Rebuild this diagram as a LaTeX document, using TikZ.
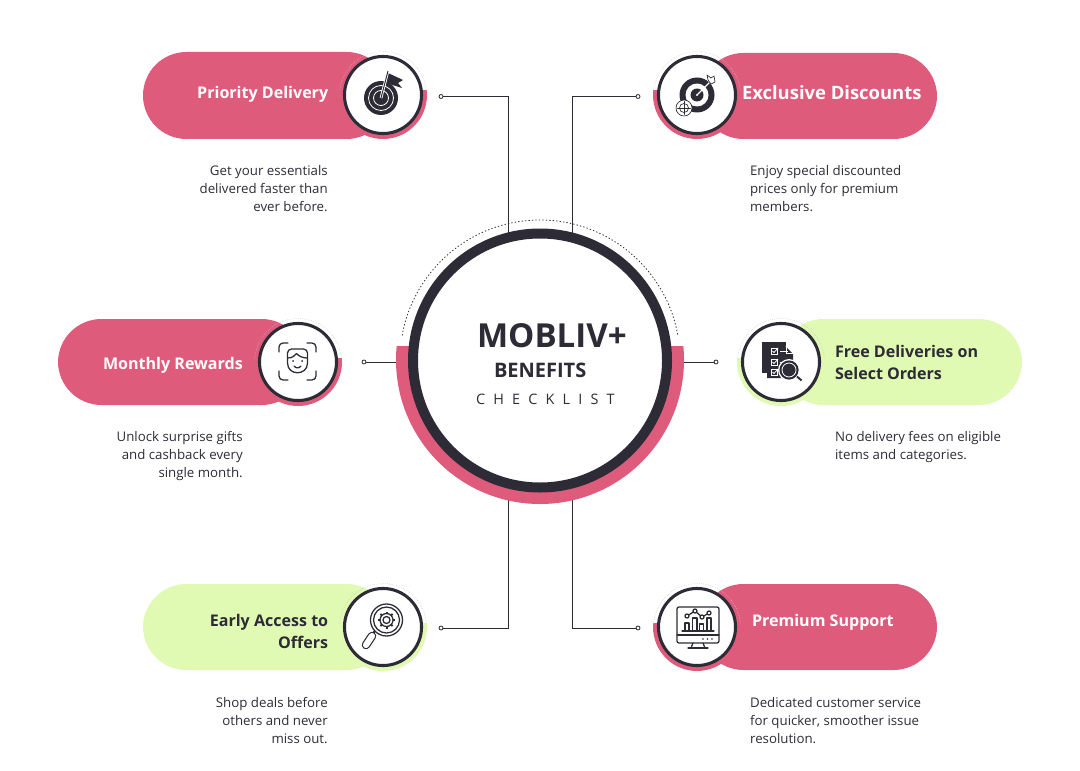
\documentclass[tikz,border=0pt]{standalone}
\usepackage{fontspec}
\setmainfont{Open Sans}
\definecolor{rosy}{HTML}{DF5B7C}
\definecolor{ink}{HTML}{2D2B36}
\definecolor{lime}{HTML}{E0F9B3}

% rim under a badge, faint dots over it
\newcommand{\badgerim}[3]{%
	\begin{scope}
		\clip (#1-50,#2-4) rectangle (#1+50,#2+50);
		\fill[#3] (#1,#2) circle (44);
	\end{scope}
	\begin{scope}
		\clip (#1-50,#2-50) rectangle (#1+50,#2-4);
		\draw[faint] (#1,#2) circle (43.5);
	\end{scope}
}

\begin{document}
\begin{tikzpicture}[x=0.75pt,y=-0.75pt,line width=0.75pt,draw=ink]
	\tikzstyle{badge}=[circle,draw=ink,fill=white,line width=2.3pt,minimum size=57.8pt,inner sep=0pt]
	\tikzstyle{faint}=[draw=gray!45,line width=0.4pt,densely dotted]
	\tikzstyle{tip}=[circle,draw=ink,fill=white,line width=0.6pt,minimum size=3pt,inner sep=0pt]
	\tikzstyle{wire}=[draw=ink,line width=0.75pt]
	\tikzstyle{title}=[inner sep=0pt,font=\fontsize{12.05}{16.5}\selectfont\bfseries]
	\tikzstyle{blurb}=[inner sep=0pt,text=ink,font=\fontsize{9.95}{13.5}\selectfont]
	\tikzstyle{iconline}=[draw=ink,line width=0.95pt,line cap=round,line join=round]

	\useasboundingbox (0,0) rectangle (1080,770);

	\def \rowa{95}
	\def \rowb{362}
	\def \rowc{627}

	% pills
	\fill[rosy,rounded corners=32.6pt] (143,52) rectangle (390,139);
	\fill[rosy,rounded corners=32.6pt] (700,53) rectangle (937,139);
	\fill[rosy,rounded corners=32.6pt] (58,319) rectangle (305,405);
	\fill[lime,rounded corners=32.6pt] (780,319) rectangle (1022,405);
	\fill[lime,rounded corners=32.6pt] (143,584) rectangle (390,670);
	\fill[rosy,rounded corners=32.6pt] (700,584) rectangle (937,670);

	% connectors
	\node[tip] (tip-pd) at (441,96.5) {};
	\node[tip] (tip-ed) at (638,96.5) {};
	\node[tip] (tip-mr) at (364,362) {};
	\node[tip] (tip-fd) at (716,362) {};
	\node[tip] (tip-ea) at (441,628) {};
	\node[tip] (tip-ps) at (638,628) {};
	\coordinate (hub-nw) at (508,236);
	\coordinate (hub-ne) at (572,236);
	\coordinate (hub-w) at (400,362);
	\coordinate (hub-e) at (680,362);
	\coordinate (hub-sw) at (508,498);
	\coordinate (hub-se) at (572,498);
	\draw[wire] (tip-pd) -| (hub-nw);
	\draw[wire] (tip-ed) -| (hub-ne);
	\draw[wire] (tip-mr) -- (hub-w);
	\draw[wire] (tip-fd) -- (hub-e);
	\draw[wire] (tip-ea) -| (hub-sw);
	\draw[wire] (tip-ps) -| (hub-se);

	% hub
	\begin{scope}
		\clip (390,346) rectangle (690,510);
		\fill[rosy] (540,360) circle (144);
	\end{scope}
	\begin{scope}
		\clip (390,210) rectangle (690,335);
		\draw[draw=ink,line width=0.6pt,dash pattern=on 1pt off 1.6pt] (540,360) circle (140);
	\end{scope}
	\node[circle,draw=ink,fill=white,line width=7.5pt,minimum size=190.5pt,inner sep=0pt] (hub) at (540,360.5) {};

	\node[inner sep=0pt,anchor=base west,text=ink,font=\fontsize{24.8}{26}\selectfont\bfseries] (hub-a) at (476.5,347) {MOBLIV+};
	\node[inner sep=0pt,anchor=base west,text=ink,font=\fontsize{15}{16}\selectfont\bfseries] (hub-b) at (493.5,377) {BENEFITS};
	\node[inner sep=0pt,anchor=base west,text=ink,font=\fontsize{10.8}{12}\selectfont\addfontfeature{LetterSpace=57}] (hub-c) at (475.5,404) {CHECKLIST};

	% badges
	\badgerim{383}{\rowa}{rosy}
	\badgerim{697}{\rowa}{rosy}
	\badgerim{298}{\rowb}{rosy}
	\badgerim{781}{\rowb}{lime}
	\badgerim{383}{\rowc}{lime}
	\badgerim{697}{\rowc}{rosy}
	\node[badge] (b-pd) at (383,\rowa) {};
	\node[badge] (b-ed) at (697,\rowa) {};
	\node[badge] (b-mr) at (298,\rowb) {};
	\node[badge] (b-fd) at (781,\rowb) {};
	\node[badge] (b-ea) at (383,\rowc) {};
	\node[badge] (b-ps) at (697,\rowc) {};

	% flag target
	\fill[ink] (381,98) circle (17);
	\draw[white,line width=0.6pt] (381,98) circle (12.5);
	\draw[white,line width=0.6pt] (381,98) circle (7.5);
	\fill[ink] (388,73) -- (403,80) -- (398,83) -- (402,88) -- (386,83) -- cycle;
	\draw[white,line width=2pt] (381,98) -- (388,71);
	\draw[ink,line width=0.7pt] (381,98) -- (388,71);

	% dart target
	\fill[ink] (697,95) circle (17.5);
	\fill[white] (697,95) circle (11.5);
	\fill[ink] (697,95) circle (6.5);
	\fill[white] (697,95) circle (1.2);
	\draw[white,line width=1pt] (697,95) -- (710,82);
	\draw[iconline,fill=white,line width=0.5pt] (708,80) -- (707,75) -- (711,78) -- (714,76) -- (715,82) -- (711,84) -- cycle;
	\draw[iconline,fill=white,line width=0.5pt] (684,108) circle (8);
	\draw[iconline,line width=0.5pt] (684,108) circle (4.5);
	\draw[iconline,line width=0.5pt] (684,101.5) -- (684,114.5) (677.5,108) -- (690.5,108);

	% face scan
	\draw[iconline,rounded corners=3pt] (279,352) -- (279,343) -- (288,343);
	\draw[iconline,rounded corners=3pt] (307,343) -- (316,343) -- (316,352);
	\draw[iconline,rounded corners=3pt] (279,371) -- (279,380) -- (288,380);
	\draw[iconline,rounded corners=3pt] (307,380) -- (316,380) -- (316,371);
	\draw[iconline,rounded corners=3pt] (287.5,363) -- (287.5,349) -- (307.5,349) -- (307.5,363);
	\draw[iconline] (287.5,363) .. controls (287.5,376) and (307.5,376) .. (307.5,363);
	\draw[iconline] (287.5,358) .. controls (292,358) and (295,356) .. (296.5,353.5) .. controls (299,356.5) and (303,358) .. (307.5,358);
	\fill[ink] (293,361) circle (1) (302,361) circle (1);
	\draw[iconline] (294,366) .. controls (296,368.5) and (299,368.5) .. (301,366);

	% checklist
	\fill[ink] (762,342) rectangle (786,373);
	\draw[white,line width=0.5pt] (767,346) rectangle (788,378);
	\fill[ink] (767,346) -- (785,346) -- (793,354) -- (793,378) -- (767,378) -- cycle;
	\draw[white,line width=0.5pt] (786,346) -- (786,353) -- (793,353);
	\foreach \rowy in {351,362,372} {
		\draw[white,line width=0.6pt] (771,\rowy-3) rectangle (777,\rowy+3);
		\draw[white,line width=0.6pt] (772.5,\rowy) -- (774,\rowy+1.5) -- (778,\rowy-3);
	}
	\draw[white,line width=0.7pt] (780,351) -- (788,351) (780,362) -- (786,362);
	\fill[white] (789,370) circle (11);
	\fill[ink] (789,370) circle (9.6);
	\draw[white,line width=0.6pt] (789,370) circle (7);
	\draw[ink,line width=1.4pt] (797,376.5) -- (801.5,380.5);

	% gear lens
	\draw[iconline] (386.5,620) circle (16);
	\draw[iconline] (386.5,620) circle (13);
	\draw[iconline] (386.5,620) circle (3.5);
	\draw[iconline] (386.5,620) circle (6.5);
	\foreach \tooth in {0,45,...,315}
		\draw[ink,line width=1.5pt] (386.5,620) ++(\tooth:6.5) -- ++(\tooth:2);
	\draw[ink,line width=1.6pt] (375,631) -- (372.5,634);
	\draw[ink,line width=6.4pt,line cap=round] (372,636) -- (366,645);
	\draw[white,line width=4.6pt,line cap=round] (372,636) -- (366,645);

	% monitor
	\draw[iconline,rounded corners=1.5pt] (677,607) rectangle (719,643);
	\draw[iconline] (677,635) -- (719,635);
	\draw[iconline] (693,643) -- (691,648) (703,643) -- (705,648);
	\draw[iconline] (688,648) -- (708,648);
	\draw[iconline] (682,631) -- (714,631);
	\draw[iconline] (685,631) -- (685,623) -- (689,623) -- (689,631);
	\draw[iconline] (692.5,631) -- (692.5,618) -- (697,618) -- (697,631);
	\draw[iconline] (699.5,631) -- (699.5,624) -- (703.5,624) -- (703.5,631);
	\draw[iconline] (707,631) -- (707,618) -- (711,618) -- (711,631);
	\draw[iconline] (687,616) -- (695,611) -- (702,617) -- (709,613);
	\foreach \spot in {(687,616),(695,611),(702,617),(709,613)}
		\draw[iconline,fill=white] \spot circle (2);
	\fill[ink] (703,639) circle (0.9) (707.5,639) circle (0.9) (712,639) circle (0.9);

	% titles
	\node[title,text=white,anchor=base east] (t-pd) at (328.7,98.5) {Priority Delivery};
	\node[title,text=white,anchor=base west,font=\fontsize{13.83}{16.5}\selectfont\bfseries] (t-ed) at (741.5,100) {Exclusive Discounts};
	\node[title,text=white,anchor=base east] (t-mr) at (243.3,369) {Monthly Rewards};
	\node[title,text=ink,anchor=base west,align=left] (t-fd) at (834.5,379) {Free Deliveries on\\Select Orders};
	\node[title,text=ink,anchor=base east,align=right] (t-ea) at (328.7,648) {Early Access to\\Offers};
	\node[title,text=white,anchor=base west] (t-ps) at (751.5,626) {Premium Support};

	% blurbs
	\node[blurb,anchor=base east,align=right] (n-pd) at (328.2,211) {Get your essentials\\delivered faster than\\ever before.};
	\node[blurb,anchor=base west,align=left] (n-ed) at (749.6,211) {Enjoy special discounted\\prices only for premium\\members.};
	\node[blurb,anchor=base east,align=right] (n-mr) at (243.2,477) {Unlock surprise gifts\\and cashback every\\single month.};
	\node[blurb,anchor=base west,align=left] (n-fd) at (834.6,459) {No delivery fees on eligible\\items and categories.};
	\node[blurb,anchor=base east,align=right] (n-ea) at (328.2,743) {Shop deals before\\others and never\\miss out.};
	\node[blurb,anchor=base west,align=left] (n-ps) at (749.6,743) {Dedicated customer service\\for quicker, smoother issue\\resolution.};
\end{tikzpicture}
\end{document}
